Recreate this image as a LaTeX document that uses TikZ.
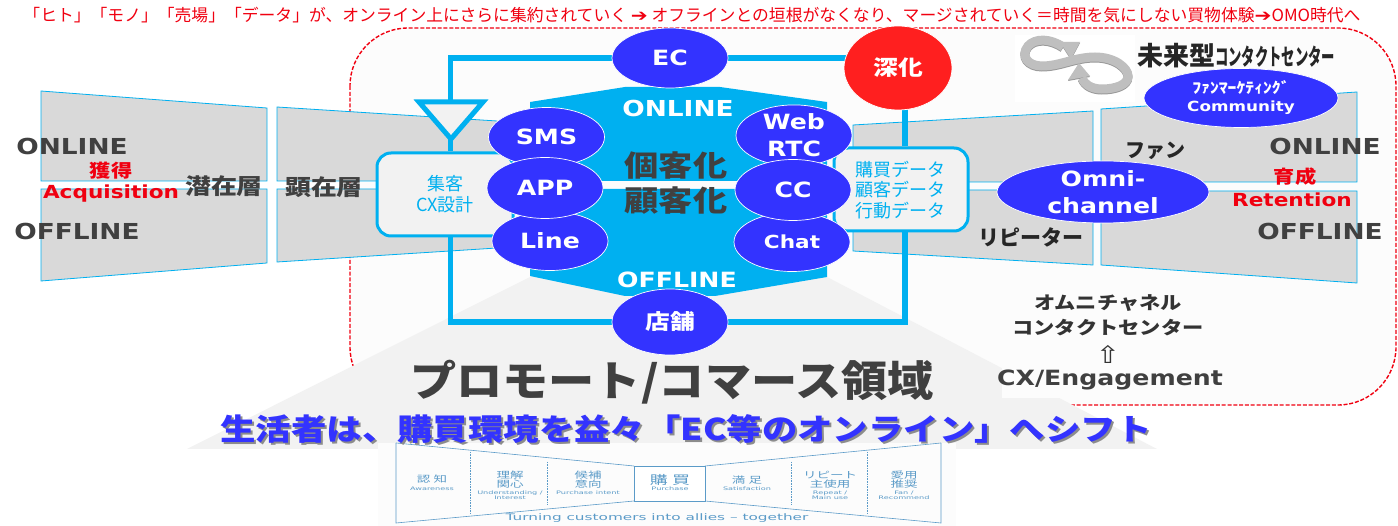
\documentclass[tikz,border=0pt]{standalone}
\usepackage{fontspec}
\setmainfont{DejaVu Sans}
\newfontfamily\lat[FakeStretch=1.2]{DejaVu Sans}
\newfontfamily\latwide[FakeStretch=1.7]{DejaVu Sans}
\newfontfamily\cjk{Noto Sans CJK JP}
\newfontfamily\cjkwide[FakeStretch=1.18]{Noto Sans CJK JP}
\newfontfamily\cjkmid[FakeStretch=1.1]{Noto Sans CJK JP}
\newfontfamily\cjkstage[FakeStretch=1.5]{Noto Sans CJK JP}
\newfontfamily\cjkthin[FakeStretch=0.58]{Noto Sans CJK JP}
\usetikzlibrary{shapes.geometric,backgrounds}
\definecolor{railblue}{HTML}{00B0F0}
\definecolor{chanblue}{HTML}{3333FF}
\definecolor{funnelgray}{HTML}{D9D9D9}
\definecolor{softgray}{HTML}{F2F2F2}
\definecolor{darktext}{HTML}{404040}
\definecolor{warnred}{HTML}{F00010}
\definecolor{thinblue}{HTML}{5B9BC8}
\begin{document}
\begin{tikzpicture}[
                x=1pt, y=-1pt,
                rail/.style={draw=railblue, line width=5.5pt},
                funnel/.style={fill=funnelgray, draw=railblue, line width=0.8pt},
                loopband/.style={line width=9pt},
                chan/.style={ellipse, fill=chanblue, draw=white, line width=0.7pt, text=white,
                    inner sep=0pt, minimum width=116pt, minimum height=59pt, align=center,
                    font=\lat\bfseries\fontsize{21}{27}\selectfont},
                softbox/.style={rectangle, rounded corners=14pt, fill=softgray, draw=railblue,
                    line width=3pt, inner sep=0pt},
                boxtext/.style={text=railblue, inner sep=0pt, align=center,
                    font=\cjk\fontsize{18}{20.5}\selectfont},
                latlabel/.style={text=darktext, inner sep=0pt,
                    font=\lat\bfseries\fontsize{22}{24}\selectfont},
                cjklabel/.style={text=darktext, inner sep=0pt,
                    font=\cjkwide\bfseries\fontsize{22}{24}\selectfont},
                redlabel/.style={text=warnred, inner sep=0pt,
                    font=\lat\bfseries\fontsize{18}{22}\selectfont},
                stage/.style={text=thinblue, inner sep=0pt, align=center,
                    font=\cjkstage\fontsize{9}{9.5}\selectfont},
                substage/.style={text=thinblue, inner sep=0pt, align=center,
                    font=\latwide\fontsize{4.8}{5.2}\selectfont}]
        \useasboundingbox (0,0) rectangle (1398,526);

        % Centre line of the loop icon.
        \def\looppath{(1063,47) .. controls (1050,38) and (1035,38) .. (1028,46)
                .. controls (1020,56) and (1028,66) .. (1042,66)
                .. controls (1060,66) and (1075,57) .. (1095,57)
                .. controls (1115,57) and (1128,68) .. (1128,76)
                .. controls (1128,85) and (1115,89) .. (1102,89)
                .. controls (1092,89) and (1085,85) .. (1082,78)}

        % Channel ellipses around the centre.
        \node[chan, minimum height=60pt] (ec) at (670,58) {EC};
        \node[chan, minimum height=66pt, font=\cjkwide\bfseries\fontsize{21}{24}\selectfont] (tenpo) at (670,322) {店舗};
        \node[chan, fill=red!88!white, minimum width=108pt, minimum height=84pt,
            font=\cjkwide\bfseries\fontsize{21}{24}\selectfont] (shinka) at (898,68) {深化};

        % Boxes on the two rails.
        \node[softbox, minimum width=136pt, minimum height=83pt] (cxbox) at (445,194.5) {};
        \node[softbox, minimum width=134pt, minimum height=83pt] (databox) at (901,189.5) {};
        \node[boxtext] (cxtext) at (445,194) {集客\\CX設計};
        \node[boxtext] (datatext) at (900,190) {購買データ\\顧客データ\\行動データ};

        \node[chan] (sms) at (546.5,137) {SMS};
        \node[chan] (line) at (550,241) {Line};
        \node[chan, minimum height=61pt] (app) at (545,188) {APP};
        \node[chan] (webrtc) at (794,135.5) {Web\\RTC};
        \node[chan] (chat) at (792,242) {\fontsize{18}{20}\selectfont Chat};
        \node[chan, minimum height=61pt] (cc) at (793,190) {CC};
        \node[chan, minimum width=212pt, minimum height=62pt] (omni) at (1103,192)
            {Omni-\\channel};
        \node[chan, minimum width=194pt, minimum height=59pt,
            font=\lat\bfseries\fontsize{14}{18}\selectfont] (community) at (1241,98)
            {{\cjkwide\fontsize{15}{18}\selectfont ﾌｧﾝﾏｰｹﾃｨﾝｸﾞ}\\Community};

        % Labels on the hexagon.
        \node[text=white, inner sep=0pt, font=\lat\bfseries\fontsize{22}{24}\selectfont]
            (online) at (678,108) {ONLINE};
        \node[text=white, inner sep=0pt, font=\lat\bfseries\fontsize{21}{24}\selectfont]
            (offline) at (677,280) {OFFLINE};
        \node[cjklabel, font=\cjkwide\bfseries\fontsize{29}{32}\selectfont] (kokyaku) at (676,166) {個客化};
        \node[cjklabel, font=\cjkwide\bfseries\fontsize{29}{32}\selectfont] (kokyakub) at (676,201) {顧客化};

        % Labels on the funnels.
        \node[latlabel] (onl) at (72,146) {ONLINE};
        \node[latlabel] (ofl) at (77,231) {OFFLINE};
        \node[latlabel] (onr) at (1325,146) {ONLINE};
        \node[latlabel] (ofr) at (1320,231) {OFFLINE};
        \node[redlabel, font=\cjkwide\bfseries\fontsize{18}{22}\selectfont] (kakutoku) at (111,171) {獲得};
        \node[redlabel] (acq) at (111,194) {Acquisition};
        \node[redlabel, font=\cjkwide\bfseries\fontsize{18}{22}\selectfont] (ikusei) at (1295,177) {育成};
        \node[redlabel] (ret) at (1292,200) {Retention};
        \node[cjklabel] (senzai) at (224,186) {潜在層};
        \node[cjklabel] (kenzai) at (324,187) {顕在層};
        \node[cjklabel, text=black!85, font=\cjk\bfseries\fontsize{20}{24}\selectfont] (fan) at (1155,151) {ファン};
        \node[cjklabel, text=black!85, font=\cjk\bfseries\fontsize{21}{24}\selectfont] (repeater) at (1031,237) {リピーター};

        % Labels on the right, top and bottom.
        \node[inner sep=0pt, text=warnred, font=\cjk\fontsize{16.8}{18}\selectfont] (headline) at (692,15)
            {「ヒト」「モノ」「売場」「データ」が、オンライン上にさらに集約されていく {\lat ➔} オフラインとの垣根がなくなり、マージされていく＝時間を気にしない買物体験{\lat ➔}OMO時代へ};
        \node[inner sep=0pt, anchor=west, text=black!85, font=\cjk\bfseries\fontsize{26}{28}\selectfont]
            (future) at (1137,56) {未来型{\cjkthin\bfseries\fontsize{23}{28}\selectfont コンタクトセンター}};
        \node[inner sep=0pt, align=center, text=black!80, font=\cjkwide\bfseries\fontsize{18}{25}\selectfont]
            (omnicc) at (1108,315.5) {オムニチャネル\\コンタクトセンター};
        \node[inner sep=0pt, text=black!80, font=\lat\fontsize{24}{26}\selectfont] (uparrow) at (1108,354) {⇧};
        \node[latlabel, font=\lat\bfseries\fontsize{21}{24}\selectfont] (engage) at (1110,380) {CX/Engagement};
        \node[inner sep=0pt, text=darktext, font=\cjkmid\bfseries\fontsize{42}{46}\selectfont]
            (promote) at (672,382) {プロモート/コマース領域};
        \node[inner sep=0pt, text=black!45, font=\cjkwide\bfseries\fontsize{30}{34}\selectfont]
            (shifttwo) at (688,431) {生活者は、購買環境を益々「EC等のオンライン」へシフト};
        \node[inner sep=0pt, text=chanblue, font=\cjkwide\bfseries\fontsize{30}{34}\selectfont]
            (shift) at (686,429) {生活者は、購買環境を益々「EC等のオンライン」へシフト};

        % Small funnel at the bottom.
        \foreach \n/\x/\y/\t in {a/432/479/認 知, b/510/479.5/{理解\\関心}, c/588/479.5/{候補\\意向},
                e/747/480/満 足, f/830/479.5/{リピート\\主使用}, g/904/479.5/{愛用\\推奨}}
                { \node[stage] (stage\n) at (\x,\y) {\t}; }
        \node[stage, font=\cjkstage\fontsize{12}{12}\selectfont] (staged) at (670,480) {購 買};
        \foreach \n/\x/\y/\t in {a/432/489/Awareness, b/510/495/{Understanding /\\Interest}, c/588/493/Purchase intent,
                d/670/489/Purchase, e/747/489/Satisfaction, f/830/495/{Repeat /\\Main use}, g/904/495/{Fan /\\Recommend}}
                { \node[substage] (sub\n) at (\x,\y) {\t}; }
        \node[stage, font=\latwide\fontsize{9}{9}\selectfont] (turning) at (657,518)
            {Turning customers into allies – together};

        \begin{scope}[on background layer]
                % Dashed frame and its grey wedge.
                \draw[warnred, fill=black!1, dash pattern=on 4pt off 1.8pt, line width=1.4pt, rounded corners=58pt]
                    (350,28) rectangle (1396,405);
                \fill[softgray] (530,277) -- (827,277) -- (1157,449) -- (187,449) -- cycle;
                \fill[black!1] (1002,290) rectangle (1240,398);

                % Loop icon with its shadow.
                \fill[white] (1015,35) rectangle (1135,102);
                \draw[loopband, black!40] [yshift=-1pt] \looppath;
                \fill[black!40] [yshift=-1pt] (1060,42) -- (1080,42) -- (1071,59) -- cycle;
                \fill[black!40] [yshift=-1pt] (1068,80) -- (1090,76) -- (1079,63) -- cycle;
                \draw[loopband, black!25] \looppath;
                \fill[black!25] (1060,42) -- (1080,42) -- (1071,59) -- cycle;
                \fill[black!25] (1068,80) -- (1090,76) -- (1079,63) -- cycle;

                % Funnels, two halves per block.
                \draw[funnel] (41,91) -- (267,108) -- (267,181) -- (41,181) -- cycle;
                \draw[funnel] (41,189) -- (267,189) -- (267,263) -- (41,281) -- cycle;
                \draw[funnel] (277,107) -- (497,121) -- (497,181) -- (277,181) -- cycle;
                \draw[funnel] (277,189) -- (497,189) -- (497,248) -- (277,262) -- cycle;
                \draw[funnel] (853,125) -- (1093,111) -- (1093,182) -- (853,182) -- cycle;
                \draw[funnel] (853,190) -- (1093,190) -- (1093,265) -- (853,251) -- cycle;
                \draw[funnel] (1101,109) -- (1357,92) -- (1357,182) -- (1101,182) -- cycle;
                \draw[funnel] (1101,191) -- (1357,191) -- (1357,283) -- (1101,265) -- cycle;

                % Hexagon split by the white stripe.
                \fill[railblue] (530,102) -- (625,87) -- (720,87) -- (827,102) -- (827,181) -- (530,181) -- cycle;
                \fill[railblue] (530,189) -- (827,189) -- (827,277) -- (715,296) -- (625,296) -- (530,276) -- cycle;

                % Rails between the nodes.
                \coordinate (leftrail) at (450.5,100);
                \coordinate (rightrail) at (905,100);
                \draw[rail] (ec) -- (ec -| shinka);
                \draw[rail] (ec) -| (leftrail);
                \draw[rail] (leftrail) -- (cxbox.north -| leftrail);
                \draw[rail] (cxbox.south -| leftrail) |- (tenpo);
                \draw[rail] (shinka.south -| rightrail) -- (databox.north -| rightrail);
                \draw[rail] (databox.south -| rightrail) |- (tenpo);
                \draw[rail, fill=softgray, line join=miter, line width=5pt] (419,102) -- (483,102) -- (451,139) -- cycle;

                % Picture of the small funnel.
                \fill[black!1] (378,443) rectangle (956,526);
                \draw[thinblue, line width=0.6pt] (396,443) -- (396,523) -- (634,501);
                \draw[thinblue, line width=0.6pt] (396,443) -- (634,466);
                \draw[thinblue, line width=0.6pt] (941,443) -- (941,523) -- (705,501);
                \draw[thinblue, line width=0.6pt] (941,443) -- (705,466);
                \draw[thinblue, line width=0.8pt, fill=white] (634,466) rectangle (705,501);
                \foreach \x/\a/\b in {470/452/514, 547/462/505, 791/462/505, 867/452/514}
                        { \draw[thinblue, densely dotted, line width=0.6pt] (\x,\a) -- (\x,\b); }
        \end{scope}
\end{tikzpicture}
\end{document}
